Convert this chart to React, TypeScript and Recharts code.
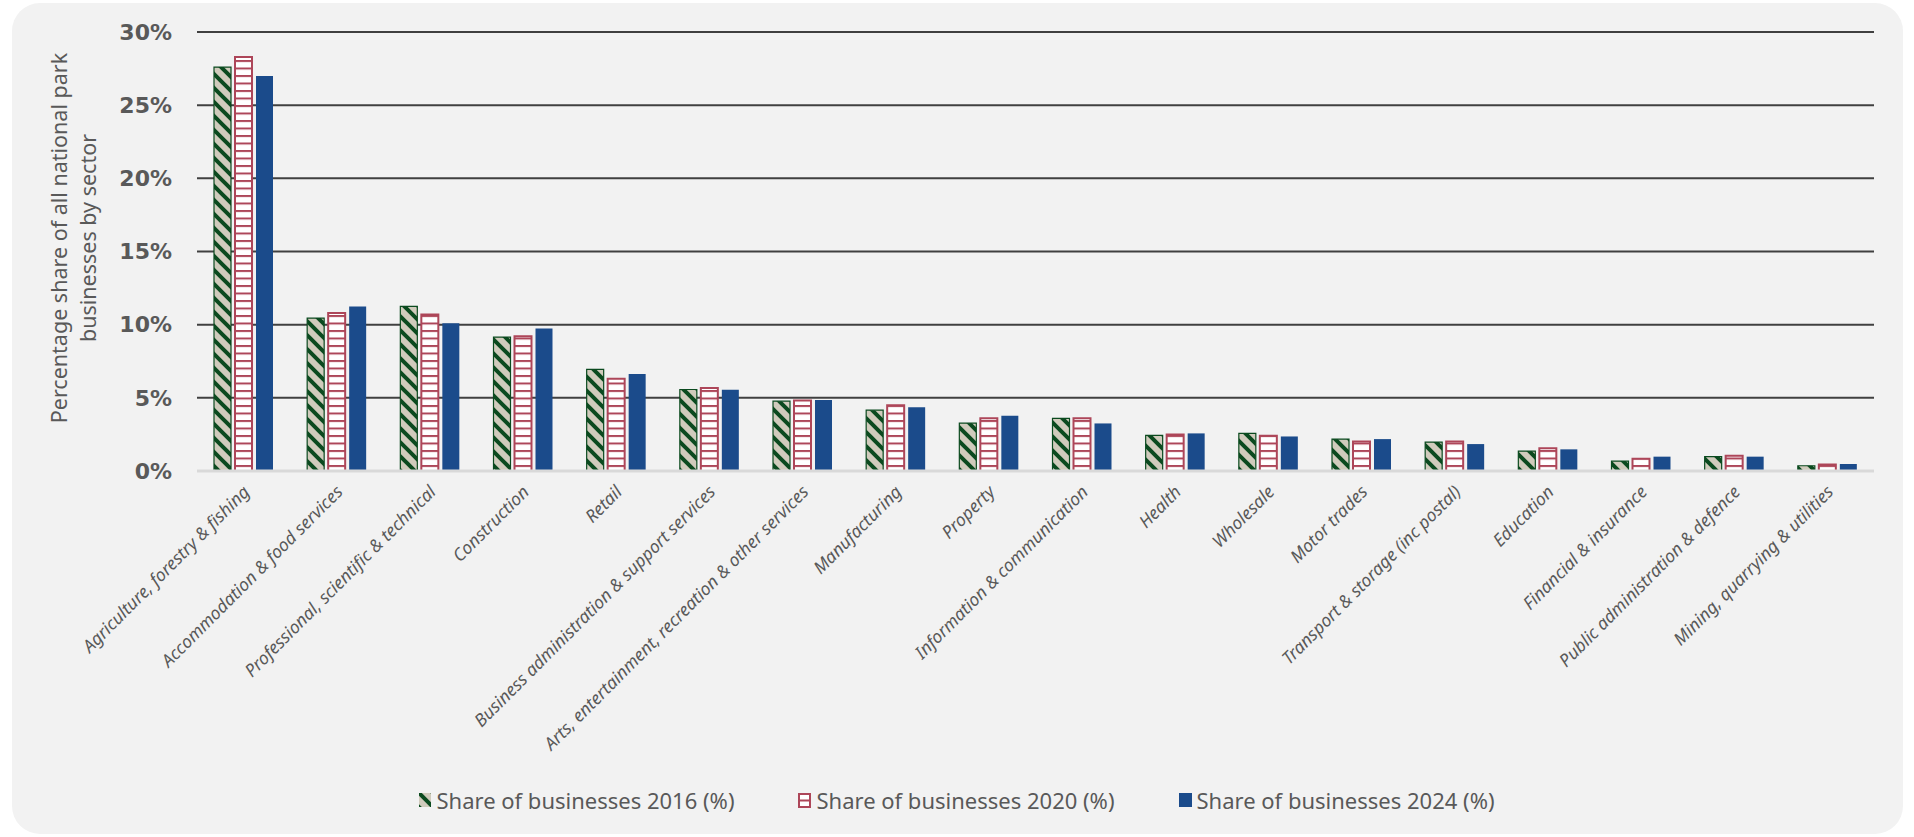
import React from 'react'
import { BarChart, Bar, XAxis, YAxis, CartesianGrid } from 'recharts'

const sectors = [
  'Agriculture, forestry & fishing',
  'Accommodation & food services',
  'Professional, scientific & technical',
  'Construction',
  'Retail',
  'Business administration & support services',
  'Arts, entertainment, recreation & other services',
  'Manufacturing',
  'Property',
  'Information & communication',
  'Health',
  'Wholesale',
  'Motor trades',
  'Transport & storage (inc postal)',
  'Education',
  'Financial & insurance',
  'Public administration & defence',
  'Mining, quarrying & utilities',
]

const share2016 = [27.6, 10.45, 11.25, 9.15, 6.95, 5.57, 4.77, 4.16, 3.27, 3.59, 2.43, 2.57, 2.18, 1.98, 1.36, 0.68, 0.98, 0.36]
const share2020 = [28.3, 10.8, 10.7, 9.2, 6.3, 5.68, 4.82, 4.5, 3.61, 3.61, 2.5, 2.41, 2.02, 2.02, 1.55, 0.84, 1.05, 0.45]
const share2024 = [27.0, 11.25, 10.1, 9.73, 6.63, 5.55, 4.86, 4.36, 3.77, 3.25, 2.57, 2.36, 2.18, 1.84, 1.48, 0.98, 0.98, 0.48]

const yTicks = [0, 5, 10, 15, 20, 25, 30]

const seriesNames = [
  'Share of businesses 2016 (%)',
  'Share of businesses 2020 (%)',
  'Share of businesses 2024 (%)',
]

const data = sectors.map((sector, i) => ({
  sector,
  s2016: share2016[i],
  s2020: share2020[i],
  s2024: share2024[i],
}))

const GREEN = '#0b4a1f'
const BEIGE = '#d0cbbc'
const RED = '#ad4659'
const BLUE = '#1b4b8b'
const TEXT = '#595959'
const FONT = '"Noto Sans", sans-serif'

function Patterns() {
  return (
    <defs>
      <pattern id="diag2016" patternUnits="userSpaceOnUse" width={14} height={14}>
        <rect width={14} height={14} fill={BEIGE} />
        <path
          d="M-4,-4 L18,18 M-4,10 L4,18 M10,-4 L18,4"
          stroke={GREEN}
          strokeWidth={4}
        />
      </pattern>
      <pattern id="rows2020" patternUnits="userSpaceOnUse" width={10} height={7.5}>
        <rect width={10} height={7.5} fill="#ffffff" />
        <rect y={0} width={10} height={2} fill={RED} />
      </pattern>
    </defs>
  )
}

function SectorTick({ x, y, payload }: any) {
  return (
    <g transform={`translate(${x + 7},${y + 22})`}>
      <text
        transform="rotate(-45)"
        textAnchor="end"
        fill={TEXT}
        fontSize={17.5}
        fontStyle="italic"
        fontFamily={FONT}
      >
        {payload.value}
      </text>
    </g>
  )
}

function AxisTitle() {
  return (
    <text
      transform="translate(0,238) rotate(-90)"
      textAnchor="middle"
      fill={TEXT}
      fontSize={21.5}
      fontFamily={FONT}
    >
      <tspan x={0} y={67}>Percentage share of all national park</tspan>
      <tspan x={0} y={96}>businesses by sector</tspan>
    </text>
  )
}

function LegendMark({ kind }: { kind: number }) {
  if (kind === 0)
    return (
      <svg width={12} height={14}>
        <rect x={0} y={0} width={12} height={14} fill="url(#diag2016)" />
      </svg>
    )
  if (kind === 1)
    return (
      <svg width={13} height={15}>
        <rect x={1} y={1} width={11} height={13} fill="#fff" stroke={RED} strokeWidth={2} />
        <rect x={1} y={6.5} width={11} height={2} fill={RED} />
      </svg>
    )
  return (
    <svg width={13} height={14}>
      <rect x={0} y={0} width={13} height={14} fill={BLUE} />
    </svg>
  )
}

export default function App() {
  return (
    <div style={{ position: 'fixed', left: 0, top: 0, width: 1914, height: 837, background: '#ffffff' }}>
      <div
        style={{
          position: 'absolute',
          left: 12,
          top: 3,
          width: 1891,
          height: 831,
          borderRadius: 28,
          background: '#f2f2f2',
        }}
      />
      <div style={{ position: 'absolute', left: 0, top: 0 }}>
        <BarChart
          width={1914}
          height={837}
          data={data}
          margin={{ top: 32, right: 40, bottom: 0, left: 0 }}
          barSize={17}
          barGap={4}
        >
          <Patterns />
          <CartesianGrid vertical={false} stroke="#404040" strokeWidth={2} />
          <XAxis
            dataKey="sector"
            height={366}
            interval={0}
            tickLine={false}
            tickSize={0}
            tickMargin={0}
            axisLine={{ stroke: '#d9d9d9', strokeWidth: 3 }}
            tick={<SectorTick />}
          />
          <YAxis
            width={197}
            domain={[0, 30]}
            ticks={yTicks}
            tickFormatter={(v: number) => `${v}%`}
            axisLine={false}
            tickLine={false}
            tickSize={0}
            tickMargin={25}
            tick={{ fill: TEXT, fontSize: 22, fontWeight: 700, fontFamily: '"DejaVu Sans", sans-serif' }}
            label={{ content: () => <AxisTitle /> }}
          />
          <Bar
            dataKey="s2016"
            name={seriesNames[0]}
            fill="url(#diag2016)"
            stroke={GREEN}
            strokeWidth={1.2}
            isAnimationActive={false}
          />
          <Bar
            dataKey="s2020"
            name={seriesNames[1]}
            fill="url(#rows2020)"
            stroke={RED}
            strokeWidth={2}
            isAnimationActive={false}
          />
          <Bar dataKey="s2024" name={seriesNames[2]} fill={BLUE} isAnimationActive={false} />
        </BarChart>
      </div>
      <div
        style={{
          position: 'absolute',
          left: 0,
          top: 785,
          width: 1914,
          display: 'flex',
          justifyContent: 'center',
          gap: 64,
          fontFamily: FONT,
          fontSize: 22,
          color: TEXT,
        }}
      >
        {seriesNames.map((name, i) => (
          <div key={name} style={{ display: 'flex', alignItems: 'center', gap: 5 }}>
            <LegendMark kind={i} />
            <span>{name}</span>
          </div>
        ))}
      </div>
    </div>
  )
}
